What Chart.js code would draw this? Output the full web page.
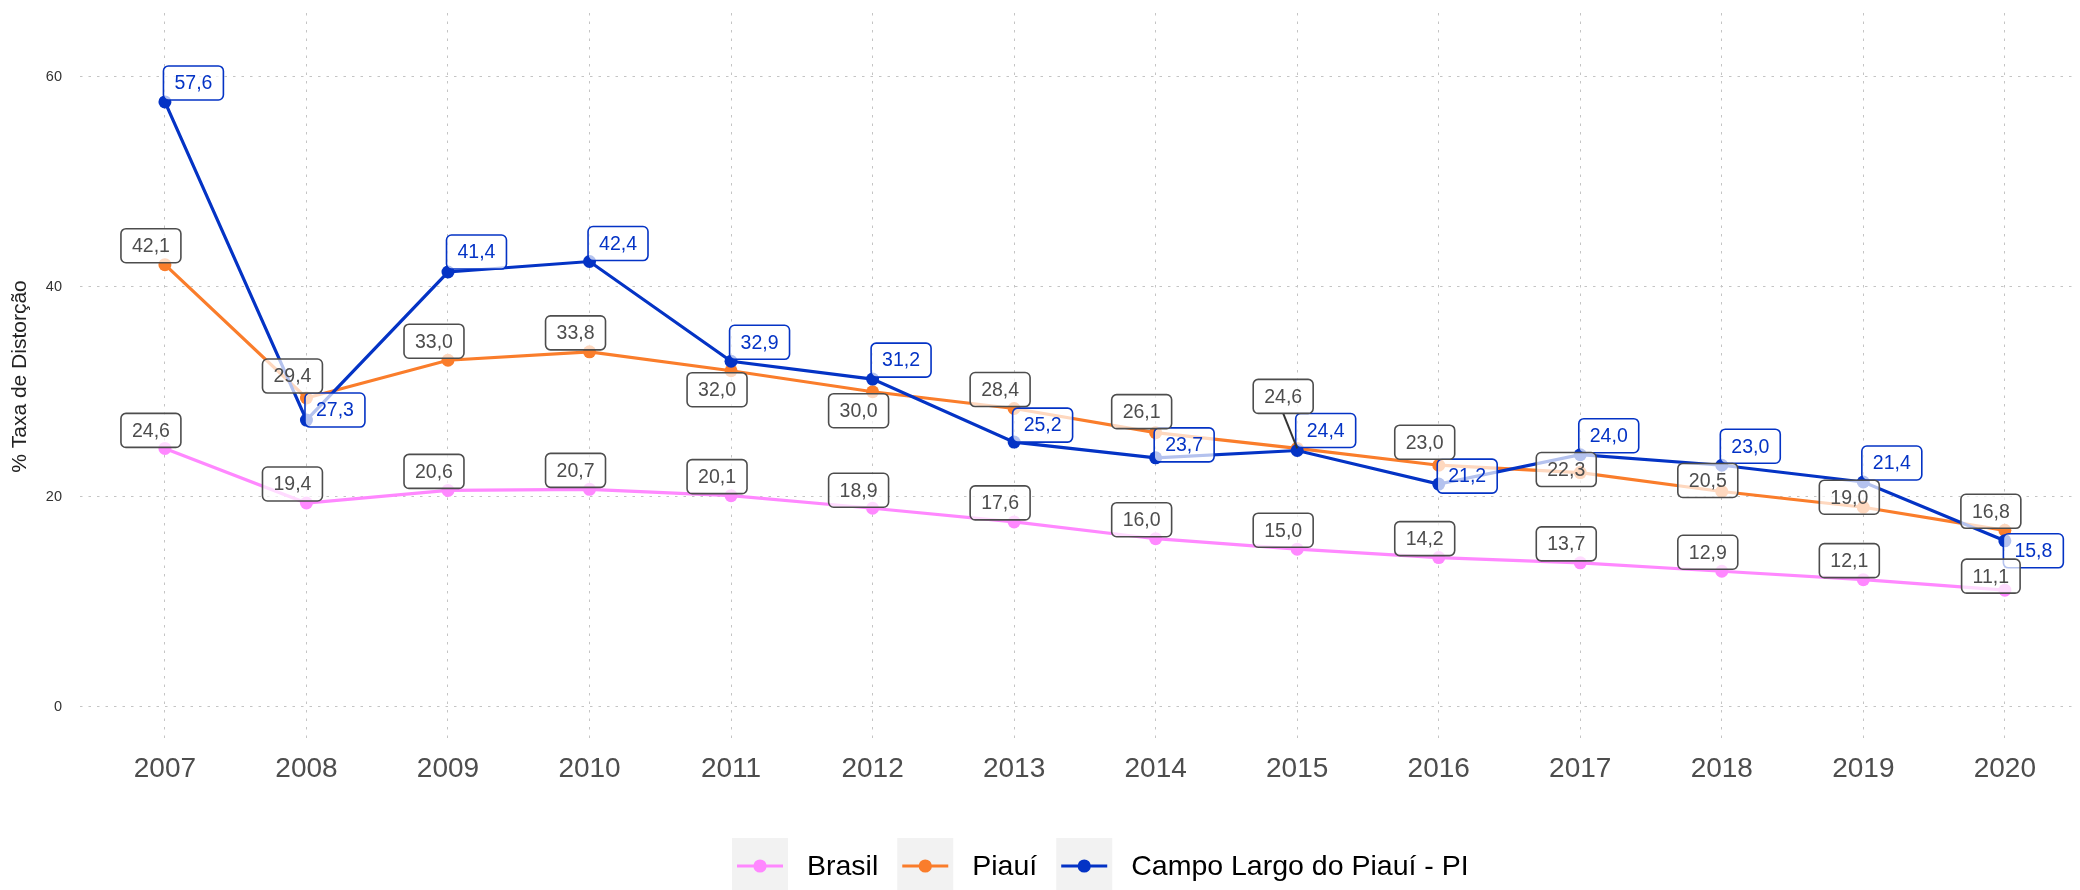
<!DOCTYPE html>
<html lang="pt-BR">
<head>
<meta charset="utf-8">
<title>Taxa de Distorção Idade-Série</title>
<script src="https://cdn.jsdelivr.net/npm/chart.js@4"></script>
<style>
  html, body { margin: 0; padding: 0; background: #fff; }
  #wrap { width: 2080px; height: 890px; position: relative; }
</style>
</head>
<body>
<div id="wrap"><canvas id="distorcao-chart"></canvas></div>
<script>
// anos e taxas de distorção (%)
const anos = [2007, 2008, 2009, 2010, 2011, 2012, 2013, 2014, 2015, 2016, 2017, 2018, 2019, 2020];
const brasil = [24.6, 19.4, 20.6, 20.7, 20.1, 18.9, 17.6, 16.0, 15.0, 14.2, 13.7, 12.9, 12.1, 11.1];
const piaui = [42.1, 29.4, 33.0, 33.8, 32.0, 30.0, 28.4, 26.1, 24.6, 23.0, 22.3, 20.5, 19.0, 16.8];
const campoLargo = [57.6, 27.3, 41.4, 42.4, 32.9, 31.2, 25.2, 23.7, 24.4, 21.2, 24.0, 23.0, 21.4, 15.8];
const yTicks = [0, 20, 40, 60];

// deslocamento vertical dos rótulos (px) em relação ao ponto
const dyBrasil = [-18, -19, -19, -19, -19, -18, -19, -19, -19, -19, -19, -19, -19, -14];
const dyPiaui = [-19, -22, -19, -19, 19, 19, -19, -21, -52, -23, -3, -11, -10, -19];
const dyCampo = [-19, -10, -20, -18, -19, -19, -17, -13, -20, -8, -19, -19, -19, 10];

const FONT = '"Liberation Sans", Arial, sans-serif';
const GRAY_LABEL = '#4d4d4d';

const series = [
    { nome: 'Brasil', valores: brasil, cor: '#ff88ff', texto: GRAY_LABEL, dx: -14, dy: dyBrasil },
    { nome: 'Piauí', valores: piaui, cor: '#fa7d2b', texto: GRAY_LABEL, dx: -14, dy: dyPiaui },
    { nome: 'Campo Largo do Piauí - PI', valores: campoLargo, cor: '#0433c5', texto: '#0433c5', dx: 28.5, dy: dyCampo }
];

const fmt = v => v.toFixed(1).replace('.', ',');

function drawLabel(ctx, x, y, text, color) {
    ctx.font = '19.5px ' + FONT;
    const w = ctx.measureText(text).width + 22;
    const h = 34;
    ctx.beginPath();
    ctx.roundRect(x - w / 2, y - h / 2, w, h, 5);
    ctx.fillStyle = 'rgba(255,255,255,0.7)';
    ctx.fill();
    ctx.lineWidth = 1.6;
    ctx.strokeStyle = color;
    ctx.stroke();
    ctx.fillStyle = color;
    ctx.textAlign = 'center';
    ctx.textBaseline = 'middle';
    ctx.fillText(text, x, y + 1);
}

// rótulos com caixa, desenhados sobre linhas e pontos
const labelPlugin = {
    id: 'rotulos',
    afterDatasetsDraw(chart) {
        const ctx = chart.ctx;
        ctx.save();
        // ordem: município, estado, país
        [2, 1, 0].forEach(si => {
            const s = series[si];
            const meta = chart.getDatasetMeta(si);
            meta.data.forEach((pt, i) => {
                const lx = pt.x + s.dx;
                const ly = pt.y + s.dy[i];
                if (Math.abs(s.dy[i]) > 30) {
                    ctx.beginPath();
                    ctx.moveTo(pt.x, pt.y);
                    ctx.lineTo(lx, ly + (s.dy[i] < 0 ? 17 : -17));
                    ctx.lineWidth = 2;
                    ctx.strokeStyle = '#333333';
                    ctx.stroke();
                }
                drawLabel(ctx, lx, ly, fmt(s.valores[i]), s.texto);
            });
        });
        ctx.restore();
    }
};

// legenda inferior com chaves em fundo cinza
const legendPlugin = {
    id: 'legendaBase',
    afterDraw(chart) {
        const ctx = chart.ctx;
        const keyW = 56, gap = 19;
        const cy = 866;
        let x = 732;
        ctx.save();
        ctx.font = '28.5px ' + FONT;
        series.forEach(s => {
            ctx.fillStyle = '#f2f2f2';
            ctx.fillRect(x, 838, keyW, 60);
            ctx.beginPath();
            ctx.moveTo(x + 5, cy);
            ctx.lineTo(x + keyW - 5, cy);
            ctx.lineWidth = 3.2;
            ctx.strokeStyle = s.cor;
            ctx.stroke();
            ctx.beginPath();
            ctx.arc(x + keyW / 2, cy, 6.6, 0, Math.PI * 2);
            ctx.fillStyle = s.cor;
            ctx.fill();
            x += keyW + gap;
            ctx.fillStyle = '#000000';
            ctx.textAlign = 'left';
            ctx.textBaseline = 'middle';
            ctx.fillText(s.nome, x, cy + 1);
            x += ctx.measureText(s.nome).width + gap;
        });
        ctx.restore();
    }
};

const gridStyle = { color: '#c4c4c4', lineWidth: 1, drawTicks: false };
const dotted = { display: false, dash: [2.5, 6] };

new Chart(document.getElementById('distorcao-chart'), {
    type: 'line',
    data: {
        labels: anos,
        datasets: series.map((s, i) => ({
            label: s.nome,
            data: s.valores.map((v, j) => ({ x: anos[j], y: v })),
            borderColor: s.cor,
            backgroundColor: s.cor,
            borderWidth: 3.2,
            pointRadius: 6.5,
            pointBorderWidth: 0,
            pointHoverRadius: 6.5,
            tension: 0,
            order: 2 - i
        }))
    },
    options: {
        responsive: true,
        maintainAspectRatio: false,
        animation: false,
        layout: { padding: { top: 13, right: 0, bottom: 0, left: 0 } },
        plugins: {
            legend: { display: false },
            tooltip: { enabled: false }
        },
        scales: {
            x: {
                type: 'linear',
                min: 2006.4,
                max: 2020.485,
                afterBuildTicks: scale => { scale.ticks = anos.map(v => ({ value: v })); },
                afterFit: scale => {
                    scale.height = 150;
                    scale.paddingLeft = 0;
                    scale.paddingRight = 0;
                },
                ticks: {
                    font: { family: FONT, size: 28 },
                    color: GRAY_LABEL,
                    padding: 12,
                    autoSkip: false,
                    maxRotation: 0,
                    callback: v => String(v)
                },
                grid: gridStyle,
                border: dotted
            },
            y: {
                min: -3.17,
                max: 66.07,
                afterBuildTicks: scale => { scale.ticks = yTicks.map(v => ({ value: v })); },
                afterFit: scale => {
                    scale.width = 80;
                    scale.paddingTop = 0;
                    scale.paddingBottom = 0;
                },
                ticks: {
                    font: { family: FONT, size: 14.5 },
                    color: '#333333',
                    padding: 18
                },
                title: {
                    display: true,
                    text: '% Taxa de Distorção',
                    font: { family: FONT, size: 21 },
                    color: '#222222',
                    padding: { top: 8, bottom: 0 }
                },
                grid: gridStyle,
                border: dotted
            }
        }
    },
    plugins: [labelPlugin, legendPlugin]
});
</script>
</body>
</html>
